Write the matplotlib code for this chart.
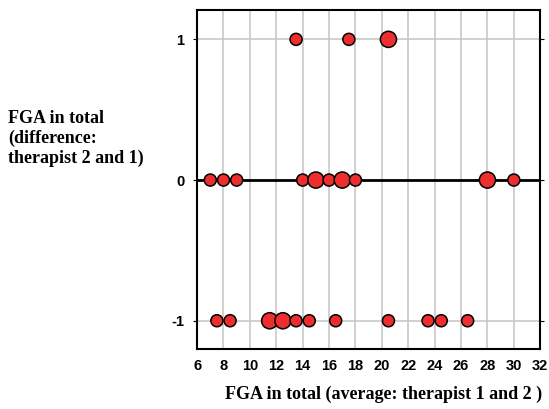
import matplotlib
matplotlib.use("Agg")
import matplotlib.pyplot as plt

# Bland-Altman style agreement points: x = average, y = difference, n = count
avg_pos = [13.5, 17.5, 20.5]
cnt_pos = [1, 1, 2]
avg_zero = [7, 8, 9, 14, 15, 16, 17, 18, 28, 30]
cnt_zero = [1, 1, 1, 1, 2, 1, 2, 1, 2, 1]
avg_neg = [7.5, 8.5, 11.5, 12.5, 13.5, 14.5, 16.5, 20.5, 23.5, 24.5, 26.5]
cnt_neg = [1, 1, 2, 2, 1, 1, 1, 1, 1, 1, 1]

x_ticks = list(range(6, 33, 2))
y_ticks = [-1, 0, 1]

SERIF = "Liberation Serif"
SANS = "Liberation Sans"
plt.rcParams["axes.unicode_minus"] = False


def sizes(counts):
    return [75 if c == 1 else 135 for c in counts]


fig = plt.figure(figsize=(5.49, 4.09), dpi=100)
ax = fig.add_axes([0.359, 0.147, 0.625, 0.829])

ax.axhline(0, color="black", linewidth=2, zorder=2)
for xs, yv, cs in [(avg_pos, 1, cnt_pos), (avg_zero, 0, cnt_zero), (avg_neg, -1, cnt_neg)]:
    ax.scatter(xs, [yv] * len(xs), s=sizes(cs), facecolor="#ee2e2e",
               edgecolor="black", linewidth=1.1, zorder=3)

ax.set_xlim(6, 32)
ax.set_ylim(-1.2, 1.21)
ax.set_xticks(x_ticks)
ax.set_yticks(y_ticks)
ax.grid(True, color="#c8c8c8", linewidth=1.2, zorder=0)
ax.set_axisbelow(True)
for s in ax.spines.values():
    s.set_linewidth(1.5)
ax.tick_params(axis="x", length=0, pad=7, labelsize=10.5)
ax.tick_params(axis="y", length=3, direction="out", pad=6, labelsize=10.5, right=True)
for lab in ax.get_xticklabels() + ax.get_yticklabels():
    lab.set_fontfamily(SANS)
    lab.set_fontweight("bold")

fig.text(0.015, 0.73, "FGA in total\n(difference:\ntherapist 2 and 1)",
         family=SERIF, weight="bold", fontsize=13, ha="left", va="top",
         linespacing=1.2)
fig.text(0.41, 0.035, "FGA in total (average: therapist 1 and 2 )",
         family=SERIF, weight="bold", fontsize=13, ha="left", va="center")

fig.savefig("out.png", dpi=100)
